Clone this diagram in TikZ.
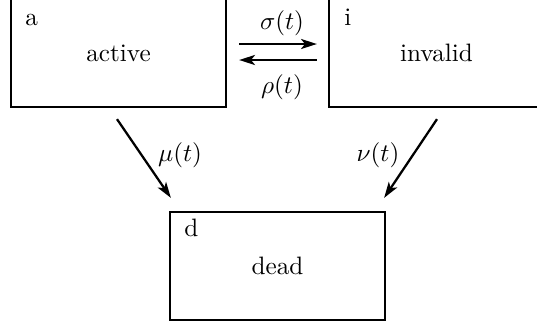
\documentclass[tikz,border=0pt]{standalone}
\usetikzlibrary{arrows.meta,calc}
\begin{document}
\begin{tikzpicture}[x=0.397pt,y=-0.397pt,
  statebox/.style={draw,line width=0.9pt,minimum width=85.36pt,minimum height=42.88pt,inner sep=0pt},
  tag/.style={anchor=base west,inner sep=0pt},
  rate/.style={inner sep=0pt},
  arr/.style={line width=0.9pt,-{Stealth[length=6.3pt,width=4pt,inset=1.6pt]}}]
\useasboundingbox (0,0) rectangle (537,324);
\node[statebox] (a) at (118.5,53) {active};
\node[statebox] (i) at (436.5,53) {invalid};
\node[statebox] (d) at (277.5,266) {dead};
\node[tag] (la) at ($(a.north west)+(15,28)$) {a};
\node[tag] (li) at ($(i.north west)+(16,28)$) {i};
\node[tag] (ld) at ($(d.north west)+(15,26)$) {d};
\draw[arr] ($(a.east)+(12,-9)$) -- ($(i.west)+(-11,-9)$);
\draw[arr] ($(i.west)+(-11,7)$) -- ($(a.east)+(12,7)$);
\draw[arr] ($(a.south)+(-1.5,11)$) -- ($(d.north west)+(2,-13)$);
\draw[arr] ($(i.south)+(0.5,11)$) -- ($(d.north east)+(-2,-13)$);
\node[rate] (sig) at (282,23) {$\sigma(t)$};
\node[rate] (rho) at (282,87) {$\rho(t)$};
\node[rate] (mu) at (180,155) {$\mu(t)$};
\node[rate] (nu) at (378,155) {$\nu(t)$};
\end{tikzpicture}
\end{document}
